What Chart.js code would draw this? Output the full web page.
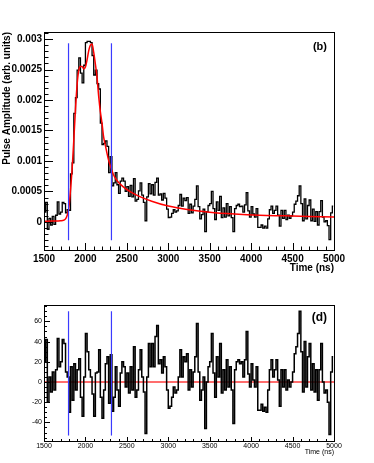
<!DOCTYPE html>
<html>
<head>
<meta charset="utf-8">
<script src="https://cdn.jsdelivr.net/npm/chart.js@4.4.1/dist/chart.umd.min.js"></script>
<style>
  html, body { margin: 0; padding: 0; background: #fff; }
  #wrap { position: relative; width: 374px; height: 463px; }
  canvas { position: absolute; left: 0; }
  #pulseChart { top: 0; }
  #residChart { top: 290px; }
</style>
</head>
<body>
<div id="wrap">
  <canvas id="pulseChart" width="374" height="290"></canvas>
  <canvas id="residChart" width="374" height="173"></canvas>
</div>
<script>
'use strict';

// ── Binning (20 ns bins from 1500 ns) ──────────────────────────────────────
const BIN_START = 1500;
const BIN_WIDTH = 20;

// ── Panel (b): measured pulse, one value per bin ───────────────────────────
const pulseAmp = [
  // 1500–1800
  0.00016, 0.00032, -0.00012, 0.00006, -0.00005, 0.00009, -0.00004, 0.00011, 0.00033, 0.00013,
  0.00016, 0.00032, 0.00030, 0.00015, 0.00020,
  // 1800–2000
  0.00019, 0.00079, 0.00097, 0.00178, 0.00204, 0.00249, 0.00269, 0.00244, 0.00228, 0.00257,
  // 2000–2200
  0.00294, 0.00296, 0.00296, 0.00294, 0.00273, 0.00241, 0.00249, 0.00227, 0.00218, 0.00162,
  // 2200–2400
  0.00127, 0.00129, 0.00133, 0.00124, 0.00081, 0.00107, 0.00059, 0.00064, 0.00081, 0.00061,
  // 2400–2600
  0.00047, 0.00067, 0.00072, 0.00067, 0.00050, 0.00058, 0.00042, 0.00060, 0.00041, 0.00071,
  // 2600–2800
  0.00034, 0.00037, 0.00051, 0.00064, 0.00044, 0.00032, 0.00002, 0.00041, 0.00063, 0.00046,
  // 2800–3000
  0.00061, 0.00044, 0.00065, 0.00072, 0.00044, 0.00046, 0.00036, 0.00047, 0.00039, 0.00021,
  // 3000–3200
  0.00007, 0.00008, 0.00014, 0.00020, 0.00016, 0.00018, 0.00027, 0.00045, 0.00026, 0.00039,
  // 3200–3400
  0.00035, 0.00040, 0.00014, 0.00029, 0.00015, 0.00026, 0.00037, 0.00059, 0.00025, 0.00005,
  // 3400–3600
  0.00012, 0.00021, -0.00016, 0.00017, 0.00027, 0.00030, 0.00050, 0.00022, 0.00004, 0.00033,
  // 3600–3800
  0.00019, 0.00042, 0.00007, 0.00023, 0.00008, 0.00030, 0.00010, 0.00025, 0.00007, -0.00016,
  // 3800–4000
  0.00022, 0.00027, 0.00029, 0.00025, 0.00026, 0.00016, 0.00028, 0.00048, 0.00018, 0.00008,
  // 4000–4200
  0.00025, 0.00013, 0.00008, 0.00022, -0.00009, -0.00009, -0.00005, -0.00010, -0.00007, -0.00010,
  // 4200–4400
  0.00005, 0.00020, 0.00026, 0.00014, 0.00019, 0.00026, 0.00011, -0.00007, 0.00019, 0.00006,
  // 4400–4600
  0.00019, 0.00004, 0.00011, 0.00006, 0.00010, 0.00016, 0.00029, 0.00034, 0.00043, 0.00059,
  // 4600–4800
  0.00030, 0.00002, 0.00038, 0.00005, 0.00027, 0.00036, 0.00002, 0.00021, 0.00001, 0.00017,
  // 4800–5000
  -0.00005, 0.00017, 0.00035, 0.00008, 0.00000, 0.00002, -0.00006, -0.00029, 0.00015, 0.00026,
];

// ── Panel (b): fitted pulse shape (red) ────────────────────────────────────
const fitTime = [1500, 1600, 1700, 1740, 1760, 1780, 1800, 1820, 1840, 1860,
                 1880, 1900, 1920, 1940, 1960, 1980, 2000, 2020, 2040, 2060,
                 2080, 2100, 2120, 2140, 2160, 2180, 2200, 2220, 2240, 2260,
                 2280, 2300, 2340, 2380, 2420, 2480, 2550, 2650, 2800, 3000,
                 3250, 3500, 3800, 4100, 4400, 4700, 5000];
const fitAmp = [0.00001, 0.000015, 0.00002, 0.00003, 0.00005, 0.00011, 0.00023, 0.00052, 0.00088, 0.00135,
                0.00185, 0.00226, 0.00249, 0.00255, 0.00255, 0.00251, 0.00254, 0.00266, 0.00281, 0.00290,
                0.00292, 0.00278, 0.00259, 0.00237, 0.00206, 0.00181, 0.00162, 0.00139, 0.00126, 0.00113,
                0.00101, 0.00092, 0.00077, 0.00068, 0.00062, 0.00055, 0.00049, 0.00042, 0.00034, 0.00026,
                0.00020, 0.00016, 0.00013, 0.00011, 0.00010, 0.00009, 0.00008];

// ── Panel (d): residuals, one value per bin ────────────────────────────────
const residual = [
  20, 42, -20, 5, -10, 10, -8, 12, 43, 15, 20, 42, 38, 10, 5,
  -30, 15, -18, 18, -8, 12, 23, -15, -34, 5,
  48, 30, 12, 5, -12, -34, 9, 10, 32, -15,
  -36, -8, 18, 25, -21, 27, -29, -15, 15, -8,
  -24, 9, 20, 15, -5, 9, -11, 15, -8, 35,
  -15, -8, 12, 32, 5, -10, -51, 5, 38, 15,
  38, 15, 45, 56, 18, 22, 9, 25, 15, -8,
  -26, -24, -15, -5, -11, -8, 5, 32, 5, 25,
  20, 28, -8, 12, -5, 10, 25, 58, 10, -18,
  -8, 5, -46, 0, 15, 20, 48, 9, -15, 25,
  5, 38, -11, 12, -8, 22, -5, 15, -8, -41,
  12, 20, 22, 18, 20, 5, 22, 50, 8, -5,
  18, 2, -5, 15, -28, -28, -22, -29, -25, -30,
  -8, 12, 22, 5, 12, 22, 2, -24, 12, -5,
  12, -8, 2, -5, 0, 10, 28, 35, 48, 70,
  30, -10, 40, -5, 25, 38, -8, 18, -10, 12,
  -18, 12, 38, 0, -11, -8, -20, -52, 10, 25,
];
const zeroTime = [1500, 5000];
const zeroVal  = [0, 0];

// ── Integration window markers (blue) ──────────────────────────────────────
const windowTime = [1796, 2314];
const pulseWindowSpan = [-0.0003, 0.00293];
const residWindowSpan = [-53, 70];

// ── Helpers ────────────────────────────────────────────────────────────────
const binCenters = pulseAmp.map((_, i) => BIN_START + BIN_WIDTH * (i + 0.5));
const toXY = (xs, ys) => xs.map((x, i) => ({ x, y: ys[i] }));
const isMajor = (v, step) => Math.abs(v / step - Math.round(v / step)) < 1e-6;

Chart.defaults.font.family = "'Liberation Sans', Arial, Helvetica, sans-serif";
Chart.defaults.color = '#000';

// ROOT-style frame: box + inward tick marks + panel tag
const rootFrame = {
  id: 'rootFrame',
  afterDatasetsDraw(chart, args, o) {
    const { ctx, chartArea: a, scales: { x, y } } = chart;
    ctx.save();
    ctx.strokeStyle = '#000';
    ctx.lineWidth = 1;
    ctx.beginPath();
    x.ticks.forEach(t => {
      const px = Math.round(x.getPixelForValue(t.value)) + 0.5;
      const len = isMajor(t.value, o.xMajor) ? o.xTick : o.xTick / 2;
      ctx.moveTo(px, a.bottom);
      ctx.lineTo(px, a.bottom - len);
    });
    y.ticks.forEach(t => {
      const py = Math.round(y.getPixelForValue(t.value)) + 0.5;
      const len = isMajor(t.value, o.yMajor) ? o.yTick : o.yTick / 2;
      ctx.moveTo(a.left, py);
      ctx.lineTo(a.left + len, py);
    });
    ctx.stroke();
    ctx.strokeRect(Math.round(a.left) + 0.5, Math.round(a.top) + 0.5,
                   Math.round(a.right - a.left), Math.round(a.bottom - a.top));
    ctx.fillStyle = '#000';
    ctx.font = o.tagFont;
    ctx.textAlign = 'right';
    ctx.textBaseline = 'middle';
    ctx.fillText(o.tag, a.right - 7, a.top + o.tagDy);
    ctx.restore();
  },
};

// blue window markers go first so they sit on top of the histogram
const windowSets = span => windowTime.map(t => ({
  data: span.map(v => ({ x: t, y: v })),
  borderColor: '#3b3bff', backgroundColor: '#3b3bff', borderWidth: 1.2, pointRadius: 0,
}));

// ── Panel (b) ──────────────────────────────────────────────────────────────
new Chart(document.getElementById('pulseChart'), {
  type: 'line',
  data: {
    datasets: [
      ...windowSets(pulseWindowSpan),
      { data: toXY(fitTime, fitAmp), borderColor: '#ff0000', borderWidth: 1.5,
        pointRadius: 0, cubicInterpolationMode: 'monotone' },
      { data: toXY(binCenters, pulseAmp), borderColor: '#000', borderWidth: 1.3,
        pointRadius: 0, stepped: 'middle' },
    ],
  },
  options: {
    responsive: false,
    animation: false,
    devicePixelRatio: 1,
    layout: { padding: { top: 32, right: 40, bottom: 16, left: 0 } },
    plugins: {
      legend: { display: false },
      tooltip: { enabled: false },
      rootFrame: { xMajor: 500, yMajor: 0.0005, xTick: 7, yTick: 9,
                   tag: '(b)', tagFont: 'bold 11px "Liberation Sans", Arial', tagDy: 15 },
    },
    scales: {
      x: {
        type: 'linear', min: 1500, max: 5000,
        grid: { display: false, drawTicks: false },
        border: { display: false },
        ticks: {
          stepSize: 100, includeBounds: false, autoSkip: false, maxRotation: 0, padding: 3,
          font: { size: 10, weight: 'bold' },
          callback: v => (isMajor(v, 500) ? String(v) : ''),
        },
        title: { display: true, text: 'Time (ns)', align: 'end',
                 font: { size: 10, weight: 'bold' }, padding: { top: 0, bottom: 0 } },
        afterFit: s => { s.height = 24; },
      },
      y: {
        type: 'linear', min: -0.00046, max: 0.003115,
        grid: { display: false, drawTicks: false },
        border: { display: false },
        ticks: {
          stepSize: 0.0001, includeBounds: false, autoSkip: false, padding: 2,
          font: { size: 10, weight: 'bold' },
          callback: v => (isMajor(v, 0.0005) ? String(Number(v.toFixed(4))) : ''),
        },
        title: { display: true, text: 'Pulse Amplitude (arb. units)', align: 'end',
                 font: { size: 10, weight: 'bold' }, padding: { top: 1, bottom: 0 } },
        afterFit: s => { s.width = 44; },
      },
    },
  },
  plugins: [rootFrame],
});

// ── Panel (d) ──────────────────────────────────────────────────────────────
new Chart(document.getElementById('residChart'), {
  type: 'line',
  data: {
    datasets: [
      ...windowSets(residWindowSpan),
      { data: toXY(binCenters, residual), borderColor: '#000', borderWidth: 1.5,
        pointRadius: 0, stepped: 'middle' },
      { data: toXY(zeroTime, zeroVal), borderColor: 'rgba(255,60,60,0.75)', borderWidth: 2,
        pointRadius: 0 },
    ],
  },
  options: {
    responsive: false,
    animation: false,
    devicePixelRatio: 1,
    layout: { padding: { top: 15, right: 40, bottom: 7, left: 0 } },
    plugins: {
      legend: { display: false },
      tooltip: { enabled: false },
      rootFrame: { xMajor: 500, yMajor: 20, xTick: 4, yTick: 6,
                   tag: '(d)', tagFont: 'bold 12px "Liberation Sans", Arial', tagDy: 13 },
    },
    scales: {
      x: {
        type: 'linear', min: 1500, max: 5000,
        grid: { display: false, drawTicks: false },
        border: { display: false },
        ticks: {
          stepSize: 100, includeBounds: false, autoSkip: false, maxRotation: 0, padding: 1,
          font: { size: 7 },
          callback: v => (isMajor(v, 500) ? String(v) : ''),
        },
        title: { display: true, text: 'Time (ns)', align: 'end',
                 font: { size: 7 }, padding: { top: 0, bottom: 0 } },
        afterFit: s => { s.height = 15; },
      },
      y: {
        type: 'linear', min: -58.4, max: 76.2,
        grid: { display: false, drawTicks: false },
        border: { display: false },
        ticks: {
          stepSize: 5, includeBounds: false, autoSkip: false, padding: 2,
          font: { size: 7 },
          callback: v => (isMajor(v, 20) ? String(v) : ''),
        },
        afterFit: s => { s.width = 44; },
      },
    },
  },
  plugins: [rootFrame],
});
</script>
</body>
</html>
